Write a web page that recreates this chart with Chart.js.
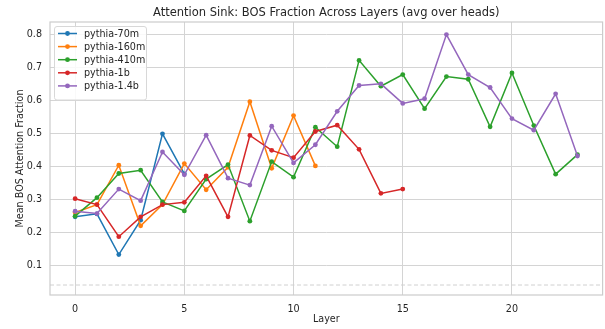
<!DOCTYPE html>
<html>
<head>
<meta charset="utf-8">
<script src="https://cdn.jsdelivr.net/npm/chart.js@4.4.1/dist/chart.umd.min.js"></script>
<style>
  html, body { margin: 0; padding: 0; background: #ffffff; }
  #wrap { width: 605px; height: 329px; }
</style>
</head>
<body>
<div id="wrap"><canvas id="chart" width="605" height="329"></canvas></div>
<script>
// Mean fraction of attention that goes to the BOS token, per layer (averaged over heads)
const modelNames = ["pythia-70m", "pythia-160m", "pythia-410m", "pythia-1b", "pythia-1.4b"];
const seriesColors = ["#1f77b4", "#ff7f0e", "#2ca02c", "#d62728", "#9467bd"];

const pythia70m  = [0.248, 0.257, 0.134, 0.238, 0.499, 0.378];
const pythia160m = [0.261, 0.285, 0.404, 0.221, 0.285, 0.409, 0.330, 0.398, 0.596, 0.395, 0.554, 0.402];
const pythia410m = [0.250, 0.306, 0.379, 0.389, 0.293, 0.266, 0.362, 0.406, 0.235, 0.415, 0.368, 0.519,
                    0.460, 0.721, 0.643, 0.678, 0.575, 0.672, 0.664, 0.520, 0.683, 0.524, 0.377, 0.436];
const pythia1b   = [0.303, 0.285, 0.188, 0.248, 0.285, 0.292, 0.372, 0.248, 0.494, 0.449, 0.427, 0.506,
                    0.525, 0.452, 0.319, 0.332];
const pythia1p4b = [0.265, 0.258, 0.332, 0.297, 0.444, 0.375, 0.495, 0.365, 0.344, 0.522, 0.411, 0.466,
                    0.567, 0.645, 0.650, 0.591, 0.605, 0.799, 0.678, 0.639, 0.545, 0.510, 0.620, 0.432];
const seriesValues = [pythia70m, pythia160m, pythia410m, pythia1b, pythia1p4b];

// Reference level drawn as a dashed line
const baselineLevel = 0.042;

const xTickValues = [0, 5, 10, 15, 20];
const yTickValues = [0.1, 0.2, 0.3, 0.4, 0.5, 0.6, 0.7, 0.8];

const X_MIN = -1.15, X_MAX = 24.15;
const Y_MIN = 0.0118, Y_MAX = 0.837;

const FONT = "'DejaVu Sans', sans-serif";
const TEXT = "#262626";
const GRID = "#d4d4d4";

const datasets = seriesValues.map((vals, i) => ({
  label: modelNames[i],
  data: vals.map((v, layer) => ({ x: layer, y: v })),
  borderColor: seriesColors[i],
  backgroundColor: seriesColors[i],
  borderWidth: 1.5,
  pointRadius: 2.4,
  pointBorderWidth: 0,
  pointHoverRadius: 2.4,
  tension: 0,
  order: seriesValues.length - i,
  inLegend: true
}));

datasets.push({
  label: "baseline",
  data: [{ x: X_MIN, y: baselineLevel }, { x: X_MAX, y: baselineLevel }],
  borderColor: "#d0d0d0",
  borderWidth: 1,
  borderDash: [4, 2.5],
  pointRadius: 0,
  order: 10,
  inLegend: false
});

// Frame around the plotting area
const frame = {
  id: "frame",
  afterDatasetsDraw(chart) {
    const { ctx, chartArea: a } = chart;
    ctx.save();
    ctx.strokeStyle = "#cccccc";
    ctx.lineWidth = 1.2;
    ctx.strokeRect(a.left, a.top, a.right - a.left, a.bottom - a.top);
    ctx.restore();
  }
};

// Legend box in the upper-left corner: a short line with a dot for each model
const innerLegend = {
  id: "innerLegend",
  afterDraw(chart) {
    const { ctx, chartArea: a } = chart;
    const items = chart.data.datasets.filter(d => d.inLegend);
    const x0 = a.left + 4, y0 = a.top + 4;
    const rowH = 13.1, w = 92, h = 10 + rowH * items.length - 2;
    ctx.save();
    ctx.fillStyle = "rgba(255,255,255,0.85)";
    ctx.strokeStyle = "#d8d8d8";
    ctx.lineWidth = 1;
    ctx.beginPath();
    ctx.roundRect(x0 + 0.5, y0 + 0.5, w, h, 2.5);
    ctx.fill();
    ctx.stroke();
    ctx.font = "9.6px " + FONT;
    ctx.textBaseline = "middle";
    ctx.textAlign = "left";
    items.forEach((d, i) => {
      const cy = y0 + 7.5 + rowH * i;
      ctx.strokeStyle = d.borderColor;
      ctx.lineWidth = 1.5;
      ctx.beginPath();
      ctx.moveTo(x0 + 4, cy);
      ctx.lineTo(x0 + 23, cy);
      ctx.stroke();
      ctx.fillStyle = d.borderColor;
      ctx.beginPath();
      ctx.arc(x0 + 13.5, cy, 2.4, 0, Math.PI * 2);
      ctx.fill();
      ctx.fillStyle = TEXT;
      ctx.fillText(d.label, x0 + 30, cy + 0.5);
    });
    ctx.restore();
  }
};

new Chart(document.getElementById("chart"), {
  type: "line",
  data: { datasets },
  options: {
    responsive: false,
    animation: false,
    events: [],
    layout: { padding: { top: 0, right: 2, bottom: 0, left: 0 } },
    plugins: {
      legend: { display: false },
      tooltip: { enabled: false },
      title: {
        display: true,
        text: "Attention Sink: BOS Fraction Across Layers (avg over heads)",
        color: TEXT,
        fullSize: false,
        font: { family: FONT, size: 11.5, weight: "normal" },
        padding: { top: 6.6, bottom: 1.6 }
      }
    },
    scales: {
      x: {
        type: "linear",
        min: X_MIN,
        max: X_MAX,
        afterBuildTicks(scale) { scale.ticks = xTickValues.map(v => ({ value: v })); },
        afterFit(scale) { scale.height = 34; },
        grid: { color: GRID, lineWidth: 1, drawTicks: false },
        border: { display: false },
        ticks: {
          color: TEXT,
          padding: 8.5,
          maxRotation: 0,
          font: { family: FONT, size: 9.6 },
          callback: v => String(v)
        },
        title: {
          display: true,
          text: "Layer",
          color: TEXT,
          font: { family: FONT, size: 9.6 },
          padding: { top: 0, bottom: 3.5 }
        }
      },
      y: {
        type: "linear",
        min: Y_MIN,
        max: Y_MAX,
        afterBuildTicks(scale) { scale.ticks = yTickValues.map(v => ({ value: v })); },
        afterFit(scale) { scale.width = 50; },
        grid: { color: GRID, lineWidth: 1, drawTicks: false },
        border: { display: false },
        ticks: {
          color: TEXT,
          padding: 8,
          font: { family: FONT, size: 9.6 },
          callback: v => v.toFixed(1)
        },
        title: {
          display: true,
          text: "Mean BOS Attention Fraction",
          color: TEXT,
          font: { family: FONT, size: 9.6 },
          padding: { top: 14.5, bottom: 0 }
        }
      }
    }
  },
  plugins: [frame, innerLegend]
});
</script>
</body>
</html>
